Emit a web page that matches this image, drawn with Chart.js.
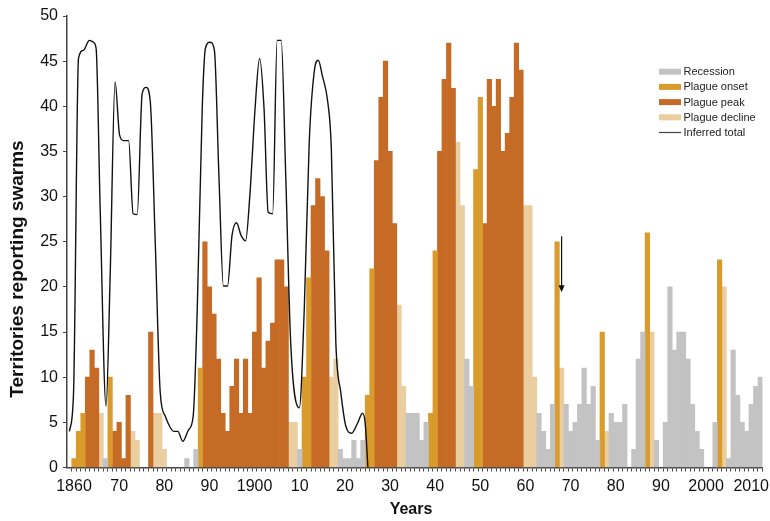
<!DOCTYPE html>
<html>
<head>
<meta charset="utf-8">
<script src="https://cdn.jsdelivr.net/npm/chart.js@4.4.0/dist/chart.umd.min.js"></script>
<style>
  html, body { margin: 0; padding: 0; background: #fff; }
  canvas { display: block; }
</style>
</head>
<body>
<canvas id="chart" width="770" height="521"></canvas>
<script>
// ---- data -------------------------------------------------------------
const FIRST_YEAR = 1860;

// territories reporting swarms, one value per year from 1860
const swarms = [
  1, 4, 6, 10, 13, 11, 6, 1, 10, 4,       // 1860s
  5, 1, 8, 4, 3, 0, 0, 15, 6, 6,          // 1870s
  2, 0, 0, 0, 0, 1, 0, 2, 11, 25,         // 1880s
  20, 17, 12, 6, 4, 9, 12, 6, 12, 6,      // 1890s
  15, 21, 11, 14, 16, 23, 23, 20, 5, 5,   // 1900s
  2, 10, 21, 29, 32, 30, 24, 10, 12, 2,   // 1910s
  1, 1, 3, 1, 3, 8, 22, 34, 41, 45,       // 1920s
  35, 27, 18, 9, 6, 6, 6, 3, 5, 6,        // 1930s
  24, 35, 43, 47, 42, 36, 29, 12, 9, 33,  // 1940s
  41, 27, 43, 40, 43, 35, 37, 41, 47, 44, // 1950s
  29, 29, 10, 6, 4, 2, 7, 25, 11, 7,      // 1960s
  4, 5, 7, 11, 7, 9, 3, 15, 4, 6,         // 1970s
  5, 5, 7, 0, 2, 12, 15, 26, 15, 3,       // 1980s
  0, 5, 20, 13, 15, 15, 12, 7, 4, 2,      // 1990s
  0, 0, 5, 23, 20, 1, 13, 8, 5, 4,        // 2000s
  7, 9, 10                                // 2010-2012
];

// phase of each year: R recession, O plague onset, P plague peak, D plague decline, . none
const phase = [
  'OOOPPPDROP', 'PPPDD..PDD', 'D....R.ROP', 'PPPPPPPPPP', 'PPPPPPPPDD',
  'ROOPPPPDDR', 'RRRRROOPPP', 'PPDDRRRRRO', 'OPPPPDDRRO', 'OPPPPPPPPP',
  'DDDRRRRODR', 'RRRRRRRODR', 'RRR.RRRODR', '.RRRRRRRRR', '..RODRRRRR',
  'RRR'
].join('').split('');

const years = swarms.map((_, i) => FIRST_YEAR + i);

const phaseCodes  = ['R', 'O', 'P', 'D'];
const phaseLabels = ['Recession', 'Plague onset', 'Plague peak', 'Plague decline'];

// inferred total (smooth curve)
const inferredYears = [
  1859.0, 1859.9, 1861.0, 1862.1, 1863.4, 1864.3, 1864.9, 1865.8, 1867.1, 1868.0,
  1869.1, 1870.1, 1871.0, 1872.1, 1873.1, 1874.0, 1875.1, 1876.0, 1876.9, 1878.0,
  1879.1, 1880.2, 1882.1, 1883.0, 1884.1, 1885.4, 1886.4, 1887.3, 1888.4, 1889.1,
  1890.1, 1891.1, 1892.1, 1893.1, 1894.0, 1895.0, 1896.0, 1897.0, 1898.0, 1899.0,
  1900.1, 1901.1, 1902.1, 1903.0, 1904.0, 1905.0, 1905.9, 1906.9, 1908.0, 1909.9,
  1911.0, 1912.1, 1913.2, 1914.1, 1915.0, 1916.2, 1917.0, 1918.0, 1919.1, 1920.2,
  1921.5, 1922.8, 1923.9, 1924.5, 1925.1
];
const inferredTotal = [
  4, 8.3, 45.3, 46.2, 47.3, 47.1, 46.4, 28.6, 6.8, 21,
  42.7, 36.8, 36.2, 36.2, 28.1, 28, 41.4, 42.1, 40.5, 24.9,
  8.3, 5.7, 4, 4, 2.9, 4.2, 5.7, 17.5, 39.7, 46.4,
  47.1, 46.2, 32.3, 20.1, 20.1, 25.7, 27.1, 25.7, 25.1, 30.5,
  39.7, 45.3, 39.7, 28.3, 28.1, 47.3, 47.3, 32.3, 13.8, 6.6,
  17.5, 36, 43.8, 45.1, 43.4, 40.5, 35.3, 13.8, 8.3, 4.6,
  3.8, 4.9, 6, 4.9, 0
];

// arrow marker (year, from value, to value)
const arrowYear = 1968;
const arrowFrom = 25.6;
const arrowTo = 19.4;

// ---- styling ------------------------------------------------------------
const FONT = "'Liberation Sans', Arial, Helvetica, sans-serif";
const AXIS_COLOR = '#444';
const phaseColors = { R: '#c3c3c3', O: '#d99b2b', P: '#c66b26', D: '#ebcea0' };

const barSets = phaseCodes.map((code, k) => ({
  type: 'bar',
  label: phaseLabels[k],
  data: years.map((yr, i) => ({ x: yr, y: phase[i] === code ? swarms[i] : null })),
  backgroundColor: phaseColors[code],
  borderWidth: 0,
  barPercentage: 1,
  categoryPercentage: 1,
  order: 1
}));

const lineSet = {
  type: 'line',
  label: 'Inferred total',
  data: inferredYears.map((yr, i) => ({ x: yr, y: inferredTotal[i] })),
  borderColor: '#111',
  borderWidth: 1.4,
  pointRadius: 0,
  cubicInterpolationMode: 'monotone',
  fill: false,
  order: 0
};

function yearLabel(v) {
  if (v % 10 !== 0) return '';
  if (v === FIRST_YEAR || v % 100 === 0 || v === 2010) return String(v);
  return String(v % 100);
}

// legend, axis titles and arrow drawn over the chart
const decorPlugin = {
  id: 'decor',
  afterDraw(chart) {
    const ctx = chart.ctx;
    const xs = chart.scales.x, ys = chart.scales.y;
    ctx.save();

    // legend
    ctx.font = '11px ' + FONT;
    ctx.textBaseline = 'middle';
    ctx.textAlign = 'left';
    chart.data.datasets.forEach((d, i) => {
      const cy = 71.7 + i * 15.2;
      if (d.type === 'bar') {
        ctx.fillStyle = d.backgroundColor;
        ctx.fillRect(659, cy - 3, 22, 6);
      } else {
        ctx.strokeStyle = '#444';
        ctx.lineWidth = 1.2;
        ctx.beginPath();
        ctx.moveTo(659, cy);
        ctx.lineTo(681, cy);
        ctx.stroke();
      }
      ctx.fillStyle = '#222';
      ctx.fillText(d.label, 683.5, cy + 0.5);
    });

    // arrow
    const ax = xs.getPixelForValue(arrowYear);
    const y1 = ys.getPixelForValue(arrowFrom);
    const y2 = ys.getPixelForValue(arrowTo);
    ctx.strokeStyle = '#111';
    ctx.lineWidth = 1.2;
    ctx.beginPath();
    ctx.moveTo(ax, y1);
    ctx.lineTo(ax, y2 - 6);
    ctx.stroke();
    ctx.fillStyle = '#111';
    ctx.beginPath();
    ctx.moveTo(ax - 3, y2 - 7);
    ctx.lineTo(ax + 3, y2 - 7);
    ctx.lineTo(ax, y2);
    ctx.closePath();
    ctx.fill();

    // axis titles
    ctx.fillStyle = '#111';
    ctx.textAlign = 'center';
    ctx.textBaseline = 'middle';
    ctx.font = 'bold 16px ' + FONT;
    ctx.fillText('Years', 411, 510);
    ctx.font = 'bold 19px ' + FONT;
    ctx.translate(18, 269);
    ctx.rotate(-Math.PI / 2);
    ctx.fillText('Territories reporting swarms', 0, 0);
    ctx.restore();
  }
};

new Chart(document.getElementById('chart'), {
  data: { datasets: [...barSets, lineSet] },
  options: {
    responsive: false,
    animation: false,
    layout: { padding: { top: 16, right: 7.5, bottom: 0, left: 0 } },
    plugins: {
      legend: { display: false },
      tooltip: { enabled: false }
    },
    scales: {
      x: {
        type: 'linear',
        min: 1858.45,
        max: 2012.5,
        offset: false,
        stacked: true,
        afterBuildTicks: s => { s.ticks = years.map(v => ({ value: v })); },
        afterFit: s => { s.height = 53.5; },
        ticks: {
          autoSkip: false,
          maxRotation: 0,
          padding: 5,
          color: '#111',
          font: { family: FONT, size: 16 },
          callback: v => yearLabel(v)
        },
        grid: { display: true, drawOnChartArea: false, drawTicks: true, tickLength: 4, color: AXIS_COLOR },
        border: { display: true, color: AXIS_COLOR, width: 1.5 }
      },
      y: {
        min: 0,
        max: 50,
        stacked: true,
        afterFit: s => { s.width = 67; },
        ticks: {
          stepSize: 5,
          padding: 5,
          color: '#111',
          font: { family: FONT, size: 16 }
        },
        grid: { display: true, drawOnChartArea: false, drawTicks: true, tickLength: 4, color: AXIS_COLOR },
        border: { display: true, color: AXIS_COLOR, width: 1.5 }
      }
    }
  },
  plugins: [decorPlugin]
});
</script>
</body>
</html>
